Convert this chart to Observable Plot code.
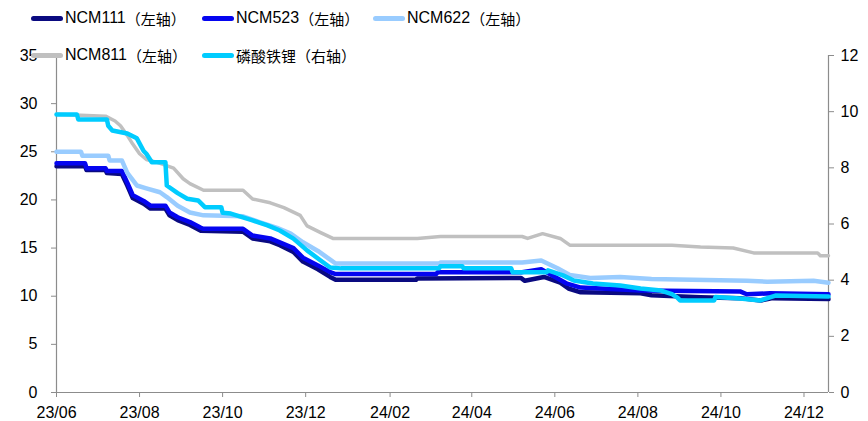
<!DOCTYPE html>
<html>
<head>
<meta charset="utf-8">
<script src="https://cdn.jsdelivr.net/npm/d3@7"></script>
<script src="https://cdn.jsdelivr.net/npm/@observablehq/plot@0.6"></script>
<style>
  body { margin: 0; background: #fff; }
  #wrap { position: relative; width: 868px; height: 421px; font-family: "Liberation Sans", Arial, "Noto Sans CJK SC", sans-serif; }
  #legend { position: absolute; left: 0; top: 0; width: 868px; height: 70px; pointer-events: none; }
  .item { position: absolute; display: flex; align-items: center; font-size: 16px; color: #000; white-space: nowrap; }
  .sw { width: 32px; height: 5px; border-radius: 3px; margin-right: 2px; }
  .cjk { font-family: "Noto Sans CJK SC", sans-serif; font-size: 15px; }
</style>
</head>
<body>
<div id="wrap"><div id="legend"></div></div>
<script>
// ---- data ----
const seriesNames = ["NCM111（左轴）", "NCM523（左轴）", "NCM622（左轴）", "NCM811（左轴）", "磷酸铁锂（右轴）"];
const seriesColors = ["#0a0a80", "#0505f0", "#99ccff", "#c0c0c0", "#00ccff"];

const ncm111 = [
  ["2023-06-01", 23.5], ["2023-06-22", 23.5], ["2023-06-23", 23.1], ["2023-07-07", 23.1], ["2023-07-08", 22.8], ["2023-07-19", 22.7],
  ["2023-07-23", 21.5], ["2023-07-27", 20.2], ["2023-08-04", 19.6], ["2023-08-09", 19.1],
  ["2023-08-20", 19.1], ["2023-08-23", 18.4], ["2023-08-29", 17.9], ["2023-09-07", 17.4],
  ["2023-09-15", 16.8], ["2023-10-16", 16.7], ["2023-10-23", 16.0], ["2023-11-05", 15.7],
  ["2023-11-12", 15.3], ["2023-11-22", 14.6], ["2023-11-29", 13.6], ["2023-12-10", 12.8],
  ["2023-12-19", 12.0], ["2023-12-23", 11.7], ["2024-02-20", 11.7], ["2024-02-21", 11.85], ["2024-05-07", 11.9],
  ["2024-05-10", 11.6], ["2024-05-24", 12.0], ["2024-06-05", 11.4], ["2024-06-11", 10.8],
  ["2024-06-20", 10.4], ["2024-08-03", 10.3], ["2024-08-11", 10.1], ["2024-09-16", 9.9],
  ["2024-10-15", 9.8], ["2024-10-30", 9.55], ["2024-11-08", 9.8], ["2024-12-19", 9.7]
];
const ncm523 = [
  ["2023-06-01", 23.8], ["2023-06-22", 23.8], ["2023-06-23", 23.3], ["2023-07-07", 23.3], ["2023-07-08", 23.0], ["2023-07-19", 23.0],
  ["2023-07-23", 21.8], ["2023-07-27", 20.5], ["2023-08-04", 19.9], ["2023-08-09", 19.4],
  ["2023-08-20", 19.4], ["2023-08-23", 18.7], ["2023-08-29", 18.2], ["2023-09-07", 17.7],
  ["2023-09-15", 17.1], ["2023-09-17", 17.0], ["2023-10-16", 17.0], ["2023-10-23", 16.3],
  ["2023-11-05", 16.0], ["2023-11-12", 15.6], ["2023-11-22", 15.0], ["2023-11-29", 14.0],
  ["2023-12-10", 13.2], ["2023-12-19", 12.5], ["2023-12-23", 12.3], ["2024-03-06", 12.3], ["2024-03-07", 12.5],
  ["2024-05-08", 12.5], ["2024-05-22", 12.8], ["2024-06-10", 11.3], ["2024-06-20", 10.9],
  ["2024-08-03", 10.6], ["2024-10-15", 10.5], ["2024-10-20", 10.2], ["2024-11-06", 10.3],
  ["2024-12-19", 10.2]
];
const ncm622 = [
  ["2023-06-01", 25.0], ["2023-06-19", 25.0], ["2023-06-20", 24.6], ["2023-07-09", 24.6], ["2023-07-10", 24.1], ["2023-07-19", 24.1],
  ["2023-07-23", 22.8], ["2023-07-30", 21.5], ["2023-08-06", 21.2], ["2023-08-16", 20.8],
  ["2023-08-21", 20.3], ["2023-08-29", 19.4], ["2023-09-07", 18.7], ["2023-09-17", 18.4],
  ["2023-10-16", 18.3], ["2023-10-28", 17.7], ["2023-11-10", 17.1], ["2023-11-20", 16.5],
  ["2023-11-29", 15.6], ["2023-12-10", 14.7], ["2023-12-19", 13.8], ["2023-12-23", 13.4],
  ["2024-03-08", 13.4], ["2024-03-09", 13.5], ["2024-05-08", 13.5], ["2024-05-22", 13.7], ["2024-06-03", 12.9],
  ["2024-06-12", 12.2], ["2024-06-27", 11.9], ["2024-07-19", 12.0], ["2024-08-11", 11.8],
  ["2024-10-20", 11.6], ["2024-11-04", 11.5], ["2024-12-08", 11.6], ["2024-12-19", 11.4]
];
const ncm811 = [
  ["2023-06-01", 28.9], ["2023-07-07", 28.7], ["2023-07-14", 28.2], ["2023-07-18", 27.7],
  ["2023-07-23", 26.7], ["2023-07-27", 25.8], ["2023-08-01", 24.8], ["2023-08-06", 24.2],
  ["2023-08-14", 23.9], ["2023-08-26", 23.3], ["2023-09-02", 22.2], ["2023-09-07", 21.7],
  ["2023-09-17", 21.0], ["2023-10-16", 21.0], ["2023-10-23", 20.1], ["2023-11-05", 19.7],
  ["2023-11-15", 19.2], ["2023-11-27", 18.4], ["2023-12-02", 17.3], ["2023-12-12", 16.6],
  ["2023-12-21", 16.0], ["2024-02-21", 16.0], ["2024-03-09", 16.2], ["2024-05-08", 16.2],
  ["2024-05-12", 16.0], ["2024-05-23", 16.5], ["2024-06-05", 16.0], ["2024-06-12", 15.3],
  ["2024-08-26", 15.3], ["2024-09-16", 15.1], ["2024-10-10", 15.0], ["2024-10-25", 14.5],
  ["2024-12-11", 14.5], ["2024-12-13", 14.2], ["2024-12-19", 14.2]
];
const lfp = [
  ["2023-06-01", 9.9], ["2023-06-16", 9.9], ["2023-06-17", 9.72], ["2023-07-08", 9.72], ["2023-07-09", 9.5], ["2023-07-12", 9.33],
  ["2023-07-23", 9.22], ["2023-07-30", 9.05], ["2023-08-04", 8.6], ["2023-08-06", 8.5],
  ["2023-08-10", 8.2], ["2023-08-20", 8.2], ["2023-08-21", 7.37], ["2023-08-29", 7.1], ["2023-09-05", 6.9],
  ["2023-09-13", 6.84], ["2023-09-18", 6.6], ["2023-09-30", 6.6], ["2023-10-01", 6.4], ["2023-10-07", 6.37],
  ["2023-10-23", 6.13], ["2023-11-03", 5.95], ["2023-11-12", 5.77], ["2023-11-22", 5.48],
  ["2023-12-02", 5.06], ["2023-12-12", 4.7], ["2023-12-19", 4.45], ["2023-12-27", 4.42],
  ["2024-03-08", 4.42], ["2024-03-09", 4.5], ["2024-03-25", 4.5], ["2024-03-26", 4.42], ["2024-04-30", 4.42], ["2024-05-01", 4.28],
  ["2024-05-26", 4.28], ["2024-05-27", 4.35],
  ["2024-06-07", 4.17], ["2024-06-15", 3.99], ["2024-06-29", 3.88], ["2024-07-19", 3.81],
  ["2024-08-03", 3.7], ["2024-08-18", 3.63], ["2024-08-26", 3.5], ["2024-08-30", 3.38],
  ["2024-09-01", 3.28], ["2024-09-26", 3.28], ["2024-09-27", 3.4], ["2024-10-15", 3.35], ["2024-10-30", 3.28],
  ["2024-11-10", 3.45], ["2024-12-19", 3.42]
];

const xTickLabels = ["23/06", "23/08", "23/10", "23/12", "24/02", "24/04", "24/06", "24/08", "24/10", "24/12"];
const xDomain = ["2023-06-01", "2024-12-19"];
const leftTicks = [0, 5, 10, 15, 20, 25, 30, 35];
const rightTicks = [0, 2, 4, 6, 8, 10, 12];
const leftMax = 35, rightMax = 12;

// ---- build ----
const parse = d3.utcParse("%Y-%m-%d");
const tickParse = d3.utcParse("%y/%m");
const toRows = (arr, name, k = 1) => arr.map(([d, v]) => ({date: parse(d), y: v * k, name}));
const ratio = leftMax / rightMax;
const allSeries = [ncm111, ncm523, ncm622, ncm811, lfp];
const widths = [4.5, 4.5, 4.5, 3.5, 4.5];

const marks = [
  Plot.ruleY([0], {stroke: "#8c8c8c", strokeWidth: 1.2}),
  Plot.ruleX([parse(xDomain[0])], {stroke: "#8c8c8c", strokeWidth: 1.2}),
  Plot.ruleX([parse(xDomain[1])], {stroke: "#8c8c8c", strokeWidth: 1.2}),
  Plot.axisY(leftTicks, {anchor: "left", label: null, tickSize: 5, tickPadding: 14, stroke: "#8c8c8c", fill: "#000", fontSize: 16}),
  Plot.axisY(rightTicks.map(v => v * ratio), {anchor: "right", label: null, tickSize: 5, tickPadding: 7, stroke: "#8c8c8c", fill: "#000", fontSize: 16,
    tickFormat: v => String(Math.round(v / ratio))}),
  Plot.axisX(xTickLabels.map(t => tickParse(t)), {anchor: "bottom", label: null, tickSize: 5, tickPadding: 9, stroke: "#8c8c8c", fill: "#000", fontSize: 16,
    tickFormat: d3.utcFormat("%y/%m")})
];
allSeries.forEach((s, i) => {
  marks.push(Plot.line(toRows(s, seriesNames[i], i === 4 ? ratio : 1), {
    x: "date", y: "y", stroke: seriesColors[i], strokeWidth: widths[i], curve: "linear", strokeLinejoin: "round"
  }));
});

const chart = Plot.plot({
  width: 868,
  height: 421,
  marginTop: 55,
  marginBottom: 29,
  marginLeft: 56,
  marginRight: 40,
  style: {fontFamily: '"Liberation Sans", Arial, sans-serif', fontSize: "16px", background: "white", color: "#000"},
  x: {type: "utc", domain: xDomain.map(parse), axis: null},
  y: {domain: [0, leftMax], axis: null},
  marks
});
document.getElementById("wrap").prepend(chart);
chart.style.position = "absolute";
chart.style.left = "0";
chart.style.top = "0";

// ---- legend ----
const legendPos = [[31, 18], [202, 18], [373, 18], [31, 55], [202, 55]];
const legend = document.getElementById("legend");
seriesNames.forEach((name, i) => {
  const item = document.createElement("div");
  item.className = "item";
  item.style.left = legendPos[i][0] + "px";
  item.style.top = (legendPos[i][1] - 11) + "px";
  item.style.height = "22px";
  const sw = document.createElement("div");
  sw.className = "sw";
  sw.style.background = seriesColors[i];
  item.appendChild(sw);
  const m = name.match(/^([A-Za-z0-9]*)(.*)$/);
  if (m[1]) { const a = document.createElement("span"); a.textContent = m[1]; item.appendChild(a); }
  const b = document.createElement("span"); b.className = "cjk"; b.textContent = m[2]; item.appendChild(b);
  legend.appendChild(item);
});
</script>
</body>
</html>
